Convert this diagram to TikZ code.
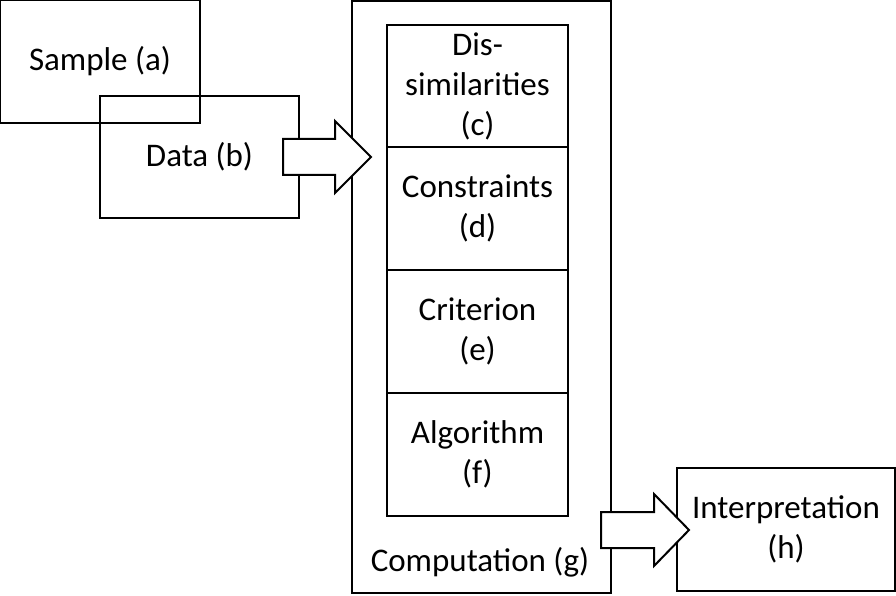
\documentclass[tikz,border=0pt]{standalone}
\usepackage{fontspec}
\setmainfont{Carlito}
\newcommand\diagfont{\fontsize{33}{40}\selectfont}
\begin{document}
\begin{tikzpicture}[x=1pt,y=-1pt,
  box/.style={draw,line width=2pt,inner sep=0pt,align=center,font=\diagfont},
  lbl/.style={inner sep=0pt,align=center,font=\diagfont},
  blockarrow/.style={draw,line width=2pt,fill=white,line join=miter}]
\useasboundingbox (0,0) rectangle (896,596);
% left boxes
\node[box, minimum width=200, minimum height=123] (sample) at (100,61.5) {Sample (a)};
\node[box, minimum width=199, minimum height=122] (data) at (199.5,157) {Data (b)};
% computation block
\node[box, minimum width=259, minimum height=592] (comp) at (481.5,297) {};
\node[box, minimum width=181, minimum height=122] (dis) at (477.5,86) {Dis-\\similarities\\(c)};
\node[box, minimum width=181, minimum height=123] (con) at (477.5,208.5) {Constraints\\(d)};
\node[box, minimum width=181, minimum height=123] (cri) at (477.5,331.5) {Criterion\\(e)};
\node[box, minimum width=181, minimum height=123] (alg) at (477.5,454.5) {Algorithm\\(f)};
\node[lbl] (complbl) at (480,562) {Computation (g)};
% interpretation
\node[box, minimum width=218, minimum height=123] (interp) at (786,529.5) {Interpretation\\(h)};
% block arrows
\draw[blockarrow] (283,139) -- (335,139) -- (335,121) -- (371,157) -- (335,193) -- (335,175) -- (283,175) -- cycle;
\draw[blockarrow] (601,512) -- (654,512) -- (654,494) -- (689,530) -- (654,566) -- (654,548) -- (601,548) -- cycle;
\end{tikzpicture}
\end{document}
